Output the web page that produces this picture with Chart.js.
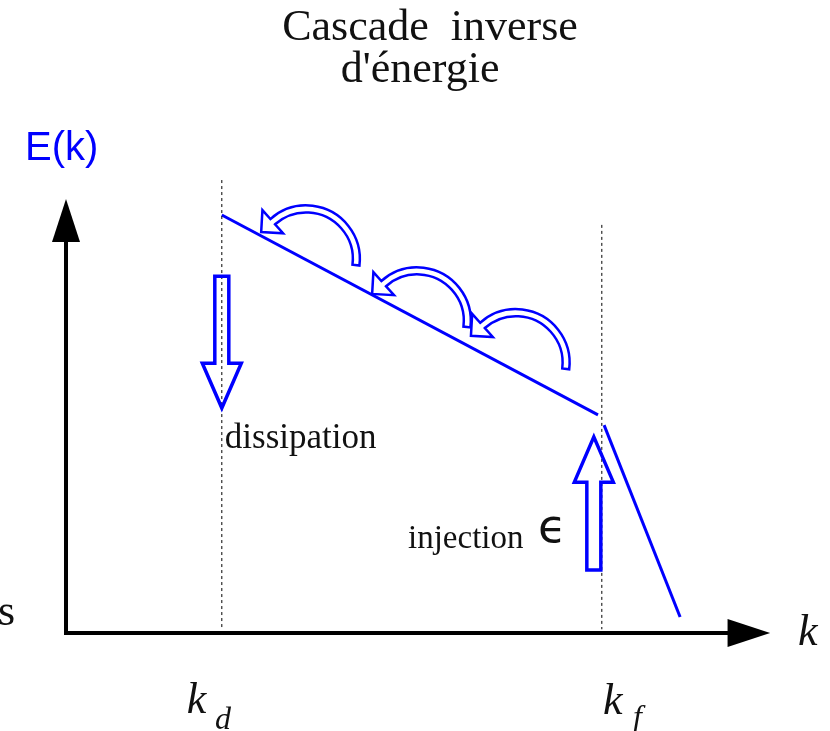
<!DOCTYPE html>
<html>
<head>
<meta charset="utf-8">
<script src="https://cdn.jsdelivr.net/npm/chart.js@4.4.0/dist/chart.umd.min.js"></script>
<style>
  html, body { margin: 0; padding: 0; background: #fff; }
  #wrap { width: 830px; height: 731px; }
</style>
</head>
<body>
<div id="wrap"><canvas id="cascade"></canvas></div>
<script>
// Schematic values, arbitrary units (k along x, E(k) along y)
const kD = 4.1;                     // dissipation wavenumber
const kF = 14.1;                    // forcing wavenumber
const inertialK = [4.1, 14.0];      // inverse cascade range
const inertialE = [11.0, 5.74];
const forcingK = [14.16, 16.16];    // steep part beyond kf
const forcingE = [5.47, 0.42];
const markerTopE = [11.92, 10.74];  // top of dashed markers at kd, kf
const axisEnd = [17.41, 10.29];     // k axis end, E axis end (arrow base)
const axisTip = [18.53, 11.42];     // arrow tips

// Curved cascade arrows (centre k, centre E), radius in k units
const cascadeK = [6.32, 9.24, 11.84];
const cascadeE = [9.84, 8.21, 7.11];
const cascadeR = 1.32;

// Vertical hollow arrows: tail, head base, tip (E units)
const dissipationE = [9.39, 7.1, 5.92];
const injectionK = 13.89;
const injectionE = [1.66, 3.97, 5.16];

const BLUE = '#0000ff';
const INK = '#111111';

const pts = (xs, ys) => xs.map((x, i) => ({ x: x, y: ys[i] }));

//Text annotations, anchored in data units
const labels = [
    { text: 'Cascade  inverse', x: 9.58, y: 15.61, font: '44px "Liberation Serif"', align: 'center', color: INK },
    { text: "d'énergie", x: 9.32, y: 14.5, font: '44px "Liberation Serif"', align: 'center', color: INK },
    { text: 'E(k)', x: -1.08, y: 12.45, font: '40px "Liberation Sans"', align: 'left', color: BLUE },
    { text: 's', x: -1.34, y: 0.21, font: '44px "Liberation Serif"', align: 'right', color: INK },
    { text: 'k', x: 19.26, y: -0.32, font: 'italic 44px "Liberation Serif"', align: 'left', color: INK },
    { text: 'k', x: 3.18, y: -2.1, font: 'italic 44px "Liberation Serif"', align: 'left', color: INK },
    { text: 'd', x: 3.92, y: -2.53, font: 'italic 32px "Liberation Serif"', align: 'left', color: INK },
    { text: 'k', x: 14.13, y: -2.13, font: 'italic 44px "Liberation Serif"', align: 'left', color: INK },
    { text: 'f', x: 14.92, y: -2.47, font: 'italic 32px "Liberation Serif"', align: 'left', color: INK },
    { text: 'dissipation', x: 4.18, y: 4.87, font: '35px "Liberation Serif"', align: 'left', color: INK },
    { text: 'injection', x: 9.0, y: 2.24, font: '33px "Liberation Serif"', align: 'left', color: INK },
    { text: 'ϵ', x: 12.42, y: 2.39, font: '46px "DejaVu Sans"', align: 'left', color: INK }
];

function hollowVertical(ctx, xc, y0, y1, y2, sh, hh) {
    ctx.beginPath();
    ctx.moveTo(xc - sh, y0);
    ctx.lineTo(xc - sh, y1);
    ctx.lineTo(xc - hh, y1);
    ctx.lineTo(xc, y2);
    ctx.lineTo(xc + hh, y1);
    ctx.lineTo(xc + sh, y1);
    ctx.lineTo(xc + sh, y0);
    ctx.closePath();
    ctx.stroke();
}

function curvedArrow(ctx, cx, cy, r) {
    const a0 = 0.12, a1 = -2.30, band = 3.5, head = 15.5;
    const px = cx + r * Math.cos(a1), py = cy + r * Math.sin(a1);
    const rx = Math.cos(a1), ry = Math.sin(a1);
    const dx = Math.sin(a1), dy = -Math.cos(a1);
    ctx.beginPath();
    ctx.arc(cx, cy, r + band, a0, a1, true);
    ctx.lineTo(px + rx * head, py + ry * head);
    ctx.lineTo(px + dx * head, py + dy * head);
    ctx.lineTo(px - rx * head, py - ry * head);
    ctx.lineTo(cx + (r - band) * rx, cy + (r - band) * ry);
    ctx.arc(cx, cy, r - band, a1, a0, false);
    ctx.closePath();
    ctx.stroke();
}

const sketchPlugin = {
    id: 'sketch',
    afterDatasetsDraw(chart) {
        const ctx = chart.ctx;
        const sx = chart.scales.x, sy = chart.scales.y;
        const X = v => sx.getPixelForValue(v), Y = v => sy.getPixelForValue(v);
        const unit = X(1) - X(0);
        ctx.save();
        //Axis arrow heads
        ctx.fillStyle = '#000';
        ctx.beginPath();
        ctx.moveTo(X(axisEnd[0]), Y(0) - 14);
        ctx.lineTo(X(axisTip[0]), Y(0));
        ctx.lineTo(X(axisEnd[0]), Y(0) + 14);
        ctx.closePath();
        ctx.fill();
        ctx.beginPath();
        ctx.moveTo(X(0) - 14, Y(axisEnd[1]));
        ctx.lineTo(X(0), Y(axisTip[1]));
        ctx.lineTo(X(0) + 14, Y(axisEnd[1]));
        ctx.closePath();
        ctx.fill();
        //Dissipation and injection arrows
        ctx.strokeStyle = BLUE;
        ctx.lineWidth = 3.5;
        ctx.lineJoin = 'miter';
        hollowVertical(ctx, X(kD), Y(dissipationE[0]), Y(dissipationE[1]), Y(dissipationE[2]), 7, 19.5);
        hollowVertical(ctx, X(injectionK), Y(injectionE[0]), Y(injectionE[1]), Y(injectionE[2]), 7, 19.5);
        //Cascade arrows
        ctx.lineWidth = 2.5;
        cascadeK.forEach((k, i) => curvedArrow(ctx, X(k), Y(cascadeE[i]), cascadeR * unit));
        ctx.restore();
    },
    afterDraw(chart) {
        const ctx = chart.ctx;
        const sx = chart.scales.x, sy = chart.scales.y;
        ctx.save();
        ctx.textBaseline = 'alphabetic';
        labels.forEach(l => {
            ctx.font = l.font;
            ctx.fillStyle = l.color;
            ctx.textAlign = l.align;
            ctx.fillText(l.text, sx.getPixelForValue(l.x), sy.getPixelForValue(l.y));
        });
        ctx.restore();
    }
};

const line = (data, color, width, dash) => ({
    data: data,
    showLine: true,
    borderColor: color,
    borderWidth: width,
    borderDash: dash || [],
    borderCapStyle: 'butt',
    pointRadius: 0,
    fill: false
});

const axisK = line(pts([0, axisEnd[0]], [0, 0]), '#000', 4);
axisK.borderCapStyle = 'square';
const axisE = line(pts([0, 0], [0, axisEnd[1]]), '#000', 4);
axisE.borderCapStyle = 'square';

new Chart(document.getElementById('cascade'), {
    type: 'scatter',
    data: {
        datasets: [
            line(pts([kD, kD], [markerTopE[0], 0.1]), '#000', 1, [3, 3]),
            line(pts([kF, kF], [markerTopE[1], 0.1]), '#000', 1, [3, 3]),
            axisK,
            axisE,
            line(pts(inertialK, inertialE), BLUE, 3),
            line(pts(forcingK, forcingE), BLUE, 3)
        ]
    },
    options: {
        responsive: true,
        maintainAspectRatio: false,
        animation: false,
        layout: { padding: 0 },
        scales: {
            x: { type: 'linear', min: -1.737, max: 20.105, display: false },
            y: { type: 'linear', min: -2.579, max: 16.658, display: false }
        },
        plugins: {
            legend: { display: false },
            tooltip: { enabled: false }
        }
    },
    plugins: [sketchPlugin]
});
</script>
</body>
</html>
